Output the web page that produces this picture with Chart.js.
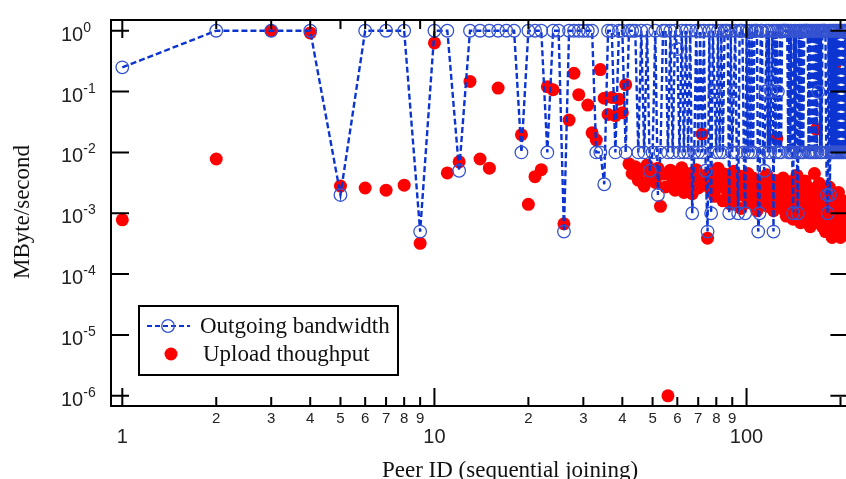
<!DOCTYPE html>
<html>
<head>
<meta charset="utf-8">
<script src="https://cdn.jsdelivr.net/npm/chart.js@4.4.1/dist/chart.umd.min.js"></script>
<style>
html, body { margin: 0; padding: 0; background: #fff; overflow: hidden; }
canvas { display: block; }
</style>
</head>
<body>
<canvas id="chartBW" width="856" height="479"></canvas>
<script>
// outgoing bandwidth (MByte/s) per peer, peer 1 first
var bandwidth = [
  0.25, 1, 1, 1, 0.002, 1, 1, 1, 0.0005, 1,
  1, 0.005, 1, 1, 1, 1, 1, 1, 0.01, 1,
  1, 1, 0.01, 1, 1, 0.0005, 1, 1, 1, 1,
  1, 1, 0.01, 0.01, 0.003, 1, 1, 0.01, 1, 1,
  0.01, 1, 1, 1, 0.01, 1, 0.01, 1, 0.005, 0.01,
  1, 0.002, 0.01, 1, 1, 0.01, 1, 0.01, 1, 0.5,
  0.01, 1, 0.01, 1, 0.01, 1, 0.001, 0.01, 1, 0.01,
  1, 0.01, 1, 0.005, 0.0005, 1, 0.001, 1, 0.1, 0.01,
  1, 0.01, 1, 0.01, 1, 1, 1, 0.001, 1, 0.01,
  0.1, 1, 0.01, 0.001, 1, 1, 1, 0.01, 0.001, 1,
  0.01, 1, 0.01, 1, 0.01, 1, 1, 1, 0.0005, 0.001,
  1, 1, 0.01, 0.005, 0.1, 1, 0.01, 1, 0.01, 0.1,
  1, 0.0005, 1, 0.01, 1, 0.1, 0.01, 1, 0.01, 1,
  1, 1, 1, 1, 1, 0.01, 1, 0.01, 1, 0.01,
  0.001, 1, 0.01, 1, 0.01, 0.001, 1, 0.01, 1, 0.01,
  1, 0.01, 1, 1, 1, 1, 1, 0.01, 1, 0.01,
  1, 0.01, 1, 0.01, 1, 0.01, 1, 0.01, 1, 0.1,
  1, 0.01, 1, 0.01, 1, 1, 1, 1, 1, 0.01,
  0.002, 0.001, 1, 0.01, 0.002, 1, 0.01, 1, 0.01, 1,
  0.01, 1, 0.01, 1, 0.01, 1, 0.01, 1, 0.01, 1,
  0.01, 1, 0.01, 1, 0.01, 1, 1, 0.01, 1, 0.01,
  1, 0.01
];

// measured upload throughput (MByte/s) per peer, null = not measured
var upload = [
  0.00078, 0.0078, 1, 0.92, 0.0028, 0.0026, 0.0024, 0.0029, 0.00032, 0.63,
  0.0046, 0.007, 0.147, 0.0078, 0.0055, 0.114, null, null, 0.0195, 0.0014,
  0.004, 0.0052, 0.12, 0.107, null, 0.00067, 0.034, 0.2, 0.089, null,
  0.06, 0.021, 0.016, 0.23, 0.078, 0.042, 0.08, 0.04, 0.075, 0.045,
  0.13, 0.0065, 0.0045, 0.0058, 0.0035, 0.0052, 0.0028, 0.0062, 0.0041, 0.0048,
  0.0032, 0.0055, 0.0013, 0.0044, 0.0027, 0.000001, 0.0051, 0.0036, 0.0024, 0.0047,
  0.0031, 0.0056, 0.0022, 0.0039, 0.0028, 0.0045, 0.0021, 0.0033, 0.0052, 0.0026,
  0.0038, 0.02, 0.0029, 0.0042, 0.00039, 0.0035, 0.0024, 0.0046, 0.0019, 0.0031,
  0.0055, 0.0027, 0.0038, 0.0016, 0.0044, 0.0029, 0.0021, 0.0036, 0.0014, 0.0025,
  0.0049, 0.0018, 0.0033, 0.0023, 0.0041, 0.0012, 0.0028, 0.0035, 0.0019, 0.0026,
  0.0045, 0.0015, 0.0031, 0.0022, 0.0038, 0.0017, 0.0027, 0.0011, 0.0034, 0.0021,
  0.0029, 0.0014, 0.0037, 0.0024, 0.0018, 0.0043, 0.0013, 0.0026, 0.0032, 0.0016,
  0.0022, 0.0011, 0.0035, 0.0019, 0.017, 0.0027, 0.0014, 0.0031, 0.0021, 0.0012,
  0.0038, 0.0017, 0.0024, 0.0009, 0.0029, 0.0015, 0.0021, 0.0011, 0.0033, 0.0018,
  0.0008, 0.0025, 0.0013, 0.0019, 0.0042, 0.001, 0.0023, 0.0015, 0.0007, 0.0028,
  0.0012, 0.0018, 0.0009, 0.0034, 0.0014, 0.0021, 0.0008, 0.0011, 0.0026, 0.0006,
  0.0016, 0.001, 0.0022, 0.0013, 0.0045, 0.0009, 0.024, 0.0017, 0.0007, 0.0012,
  0.0031, 0.0008, 0.0019, 0.0011, 0.0006, 0.0015, 0.0009, 0.0024, 0.0005, 0.0012,
  0.0018, 0.0007, 0.001, 0.0027, 0.0006, 0.0014, 0.0009, 0.0004, 0.0019, 0.0008,
  0.0012, 0.28, 0.0006, 0.0015, 0.0009, 0.0005, 0.0022, 0.0007, 0.0011, 0.0004,
  0.0013, 0.0006, 0.0009, 0.0016, 0.0005, 0.0011, 0.0007, 0.0014, 0.0006, 0.0009,
  0.0012, 0.0005
];

var xMajorTicks = [1, 10, 100];
var xMajorLabels = ['1', '10', '100'];
var xMinorTicks = [2, 3, 4, 5, 6, 7, 8, 9, 20, 30, 40, 50, 60, 70, 80, 90, 200];
var xMinorLabels = ['2', '3', '4', '5', '6', '7', '8', '9', '2', '3', '4', '5', '6', '7', '8', '9', ''];
var yExponents = [-6, -5, -4, -3, -2, -1, 0];

var blue = '#0b34d0';
var circleBlue = '#3553d0';
var red = '#ff0000';
var serif = '23px "Liberation Serif", "Times New Roman", serif';

function toPoints(arr) {
  var pts = [];
  for (var i = 0; i < arr.length; i++) {
    if (arr[i] !== null) pts.push({ x: i + 1, y: arr[i] });
  }
  return pts;
}

// box, inward ticks, tick labels, titles and the legend box
var framePlugin = {
  id: 'frame',
  afterDraw: function(chart) {
    var c = chart.ctx, a = chart.chartArea;
    var xs = chart.scales.x, ys = chart.scales.y;
    c.save();
    c.strokeStyle = '#000';
    c.lineWidth = 2;
    c.strokeRect(a.left, a.top, a.right - a.left, a.bottom - a.top);

    c.beginPath();
    xMajorTicks.concat(xMinorTicks).forEach(function(v) {
      var len = xMajorTicks.indexOf(v) >= 0 ? 18 : 9;
      var px = xs.getPixelForValue(v);
      c.moveTo(px, a.bottom); c.lineTo(px, a.bottom - len);
      c.moveTo(px, a.top); c.lineTo(px, a.top + len);
    });
    yExponents.forEach(function(e) {
      var py = ys.getPixelForValue(Math.pow(10, e));
      c.moveTo(a.left, py); c.lineTo(a.left + 18, py);
      c.moveTo(a.right, py); c.lineTo(a.right - 18, py);
    });
    c.stroke();

    c.fillStyle = '#222';
    c.textAlign = 'center';
    c.textBaseline = 'middle';
    c.font = '15px "Liberation Sans", Arial, sans-serif';
    xMinorTicks.forEach(function(v, i) {
      if (xMinorLabels[i]) c.fillText(xMinorLabels[i], xs.getPixelForValue(v), 419);
    });
    c.font = '20px "Liberation Sans", Arial, sans-serif';
    xMajorTicks.forEach(function(v, i) {
      c.fillText(xMajorLabels[i], xs.getPixelForValue(v), 437);
    });

    c.textAlign = 'left';
    c.textBaseline = 'alphabetic';
    yExponents.forEach(function(e) {
      var py = ys.getPixelForValue(Math.pow(10, e));
      c.font = '20px "Liberation Sans", Arial, sans-serif';
      c.fillText('10', 61, py + 10);
      var w = c.measureText('10').width;
      c.font = '14px "Liberation Sans", Arial, sans-serif';
      c.fillText(String(e), 61 + w, py + 1);
    });

    c.fillStyle = '#111';
    c.font = serif;
    c.textAlign = 'center';
    c.fillText('Peer ID (sequential joining)', 510, 477);
    c.save();
    c.translate(23, 212);
    c.rotate(-Math.PI / 2);
    c.textBaseline = 'middle';
    c.fillText('MByte/second', 0, 0);
    c.restore();

    // legend
    c.fillStyle = '#fff';
    c.fillRect(139, 306, 259, 69);
    c.lineWidth = 2;
    c.strokeStyle = '#000';
    c.strokeRect(139, 306, 259, 69);
    c.strokeStyle = blue;
    c.lineWidth = 2;
    c.setLineDash([5, 3]);
    c.beginPath(); c.moveTo(147, 326); c.lineTo(190, 326); c.stroke();
    c.setLineDash([]);
    c.lineWidth = 1.3;
    c.strokeStyle = circleBlue;
    c.beginPath(); c.arc(168, 326, 6.3, 0, Math.PI * 2); c.stroke();
    c.fillStyle = red;
    c.beginPath(); c.arc(171, 354, 6.5, 0, Math.PI * 2); c.fill();
    c.fillStyle = '#111';
    c.font = serif;
    c.textAlign = 'left';
    c.textBaseline = 'middle';
    c.fillText('Outgoing bandwidth', 200, 327);
    c.fillText('Upload thoughput', 203, 355);
    c.restore();
  }
};

var ctx = document.getElementById('chartBW');
var chartBW = new Chart(ctx, {
  type: 'scatter',
  data: {
    datasets: [{
      label: 'Outgoing bandwidth',
      data: toPoints(bandwidth),
      showLine: true,
      borderColor: blue,
      borderWidth: 2.4,
      borderDash: [6, 3],
      pointStyle: 'circle',
      pointRadius: 6.3,
      pointBorderWidth: 1.3,
      pointBorderColor: circleBlue,
      pointBackgroundColor: 'rgba(0,0,0,0)',
      order: 0
    }, {
      label: 'Upload thoughput',
      data: toPoints(upload),
      showLine: false,
      pointRadius: 6.5,
      pointBorderWidth: 0,
      pointBackgroundColor: red,
      pointBorderColor: red,
      order: 1
    }]
  },
  options: {
    responsive: false,
    animation: false,
    devicePixelRatio: 1,
    layout: { padding: { left: 111, top: 20, right: 2, bottom: 73 } },
    plugins: { legend: { display: false }, tooltip: { enabled: false } },
    scales: {
      x: {
        type: 'logarithmic', min: 0.92, max: 212,
        grid: { display: false, drawTicks: false }, border: { display: false },
        ticks: { display: false }
      },
      y: {
        type: 'logarithmic', min: 6.8e-7, max: 1.5,
        grid: { display: false, drawTicks: false }, border: { display: false },
        ticks: { display: false }
      }
    }
  },
  plugins: [framePlugin]
});
</script>
</body>
</html>
